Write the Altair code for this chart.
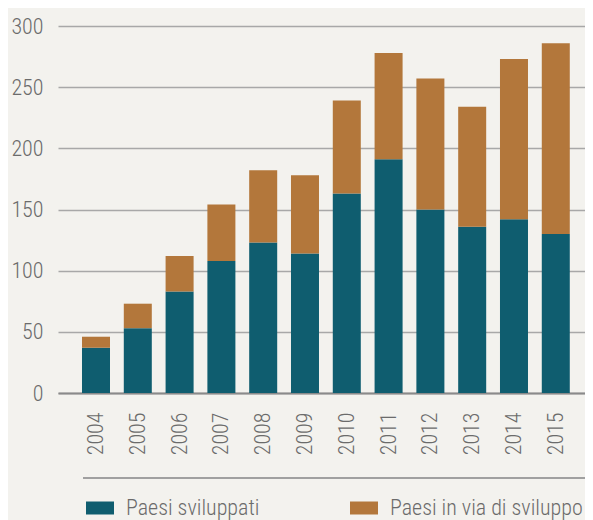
import altair as alt
import pandas as pd

years = ["2004", "2005", "2006", "2007", "2008", "2009", "2010", "2011", "2012", "2013", "2014", "2015"]
developed = [37, 53, 83, 108, 123, 114, 163, 191, 150, 136, 142, 130]
developing = [9, 20, 29, 46, 59, 64, 76, 87, 107, 98, 131, 156]
series = ["Paesi sviluppati", "Paesi in via di sviluppo"]
colors = ["#0f5d6f", "#b3773b"]
y_ticks = [0, 50, 100, 150, 200, 250, 300]

rows = []
for i, yr in enumerate(years):
    rows.append({"anno": yr, "serie": series[0], "valore": developed[i], "ord": 0})
    rows.append({"anno": yr, "serie": series[1], "valore": developing[i], "ord": 1})
df = pd.DataFrame(rows)

FONT = "Roboto Condensed, Liberation Sans Narrow, DejaVu Sans Condensed, Roboto, sans-serif"
TXT = "#6b6b6b"
FS = 22
FW = 300

bars = alt.Chart(df).mark_bar().encode(
    x=alt.X("anno:N", sort=years,
            scale=alt.Scale(paddingInner=0.33, paddingOuter=0.469, align=0.612),
            axis=alt.Axis(title=None, labelAngle=270, ticks=False, labelPadding=19,
                          labelFont=FONT, labelFontSize=FS, labelFontWeight=FW, labelColor=TXT,
                          domainColor="#8a8a8a", domainWidth=2,
                          labelAlign="right", labelBaseline="middle")),
    y=alt.Y("valore:Q", stack="zero",
            scale=alt.Scale(domain=[0, 300], nice=False),
            axis=alt.Axis(title=None, values=y_ticks, grid=True, gridColor="#a8a8a8",
                          gridWidth=1.5, domain=False, ticks=False, labelPadding=15,
                          labelFont=FONT, labelFontSize=FS, labelFontWeight=FW, labelColor=TXT)),
    color=alt.Color("serie:N", sort=series,
                    scale=alt.Scale(domain=series, range=colors),
                    legend=alt.Legend(title=None, orient="none", legendX=28, legendY=468,
                                      direction="horizontal", columns=2, columnPadding=90,
                                      symbolType="M-1,-0.464L1,-0.464L1,0.464L-1,0.464Z",
                                      symbolSize=784, symbolStrokeWidth=0, labelOffset=12,
                                      labelFont=FONT, labelFontSize=FS, labelFontWeight=FW,
                                      labelColor=TXT, padding=0, labelLimit=400)),
    order=alt.Order("ord:Q", sort="ascending"),
)

sep = alt.Chart(pd.DataFrame({"a": [0]})).mark_rule(color="#a0a0a0", strokeWidth=2).encode(
    x=alt.value(25), x2=alt.value(527), y=alt.value(452)
)

chart = alt.layer(bars, sep).properties(
    width=527, height=367,
    autosize=alt.AutoSizeParams(type="none"),
    padding={"left": 50, "top": 18, "right": 0, "bottom": 127},
    background="#f3f2ee",
).configure_view(stroke=None)

chart.save("out.html", embed_options={"renderer": "svg", "actions": False})
